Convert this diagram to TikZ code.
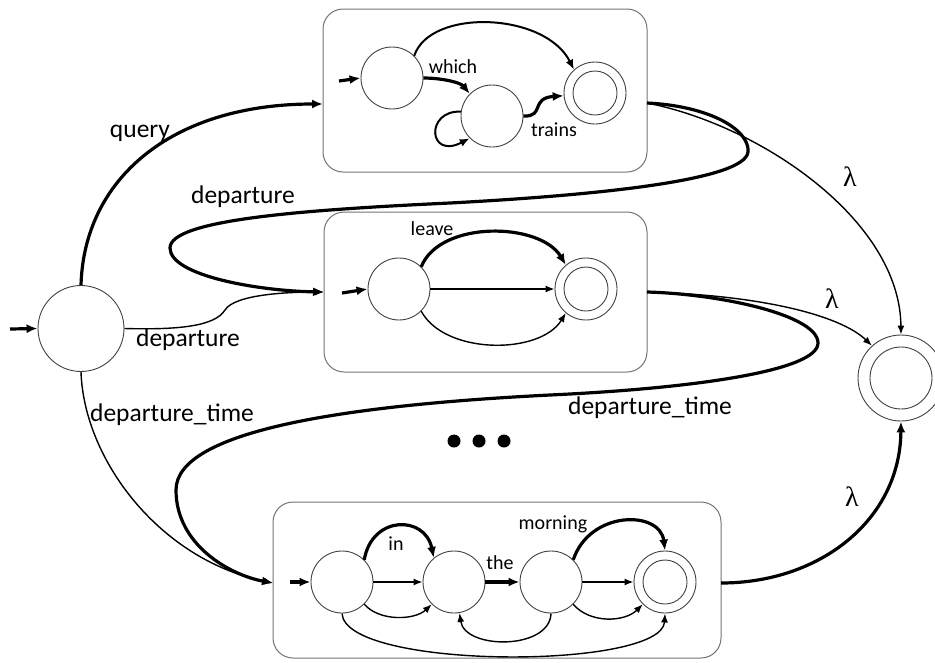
\documentclass[tikz,border=0pt]{standalone}
\usepackage{fontspec}
\setmainfont{Carlito}
\newfontfamily\lamfont{Liberation Serif}
\usetikzlibrary{arrows.meta}
\tikzset{
  st/.style={circle, draw=black!75, line width=0.9pt, minimum size=62pt, inner sep=0pt},
  fin/.style={st, path picture={\draw[black!75, line width=0.9pt] (path picture bounding box.center) circle[radius=22pt];}},
  bigfin/.style={circle, draw=black!75, line width=0.9pt, minimum size=86pt, inner sep=0pt,
    path picture={\draw[black!75, line width=0.9pt] (path picture bounding box.center) circle[radius=31pt];}},
  box/.style={draw=black!55, line width=1pt, rounded corners=20pt, inner sep=0pt},
  thn/.style={line width=1.4pt, -{Latex[length=9pt,width=7pt]}},
  mdm/.style={line width=2pt, -{Latex[length=10pt,width=8pt]}},
  thk/.style={line width=3.2pt, -{Latex[length=11pt,width=9pt]}},
  big/.style={font=\fontsize{25.5}{30}\selectfont, inner sep=0pt},
  sml/.style={font=\fontsize{20}{24}\selectfont, inner sep=0pt},
  lam/.style={font=\lamfont\fontsize{28}{32}\selectfont, inner sep=0pt},
  dot/.style={circle, fill=black, minimum size=13pt, inner sep=0pt}
}
\begin{document}
\begin{tikzpicture}[x=1pt, y=-1pt]
\useasboundingbox (0,0) rectangle (935,662);

% ---------- sub-automaton boxes ----------
\node[box, minimum width=324pt, minimum height=163pt] (box1) at (485,90.5) {};
\node[box, minimum width=323pt, minimum height=160pt] (box2) at (485.5,292) {};
\node[box, minimum width=448pt, minimum height=156pt] (box3) at (497,580) {};

\coordinate (b1in)  at (323,104);
\coordinate (b1out) at (647,103);
\coordinate (b2in)  at (324,292);
\coordinate (b2out) at (647,292);
\coordinate (b3in)  at (273,583);
\coordinate (b3out) at (721,583);

% ---------- outer start and final states ----------
\node[circle, draw=black!75, line width=0.9pt, minimum size=86pt, inner sep=0pt] (s0) at (81,328.5) {};
\node[bigfin] (f) at (901,378) {};
\coordinate (s0i) at (10,329);
\draw[thk] (s0i) -- (s0.west);

% ---------- box 1: which ... trains ----------
\node[st]  (a1) at (392,78) {};
\node[st]  (a2) at (492,116) {};
\node[fin] (a3) at (595,93) {};
\coordinate (a1i) at (339,81);
\draw[thk] (a1i) -- (a1.west);
\draw[mdm] (a1.45) .. controls (430,8) and (545,12) .. (a3.132);
\draw[thk] (a1.east) .. controls (440,78) and (460,82) .. (a2.135);
\draw[mdm] (a2.172) .. controls (425,110) and (428,160) .. (a2.225);
\draw[thk] (a2.east) .. controls (545,117) and (530,98) .. (a3.185);
\node[sml] at (453,67) {which};
\node[sml] at (554,130) {trains};

% ---------- box 2: leave ----------
\node[st]  (b1) at (399,289) {};
\node[fin] (b2) at (586,289) {};
\coordinate (b1i) at (342,293);
\draw[thk] (b1i) -- (b1.west);
\draw[thk] (b1.45) .. controls (440,220) and (540,222) .. (b2.130);
\draw[thn] (b1.east) -- (b2.west);
\draw[thn] (b1.-45) .. controls (445,355) and (540,355) .. (b2.230);
\node[sml] at (432,229) {leave};

% ---------- box 3: in the morning ----------
\node[st]  (c1) at (342,582) {};
\node[st]  (c2) at (454,582) {};
\node[st]  (c3) at (551,582) {};
\node[fin] (c4) at (665,582) {};
\coordinate (c1i) at (290,582);
\draw[thk] (c1i) -- (c1.west);
\draw[thk] (c1.45) .. controls (372,515) and (425,515) .. (c2.130);
\draw[thn] (c1.east) -- (c2.west);
\draw[thn] (c1.-45) .. controls (380,622) and (415,620) .. (c2.225);
\draw[thk] (c2.east) -- (c3.west);
\node[sml] at (500,563) {the};
\draw[thk] (c3.45) .. controls (590,510) and (660,510) .. (c4.north);
\draw[thn] (c3.east) -- (c4.west);
\draw[thn] (c3.-45) .. controls (590,624) and (625,622) .. (c4.225);
\draw[thn] (c3.south) .. controls (550,650) and (465,650) .. (c2.-80);
\draw[thn] (c1.south) .. controls (345,670) and (662,670) .. (c4.south);
\node[sml] at (396,544) {in};
\node[sml] at (553,524) {morning};

% ---------- connectors between the blocks ----------
\draw[thk] (s0.north) .. controls (84,180) and (170,104) .. (b1in);
\node[big] at (140,133) {query};

\draw[thk] (b1out) .. controls (710,106) and (750,130) .. (748,152)
  .. controls (745,180) and (600,195) .. (450,203)
  .. controls (300,210) and (170,220) .. (170,248)
  .. controls (170,276) and (260,291) .. (b2in);
\node[big] at (243,197) {departure};

\draw[thn] (s0.east) .. controls (180,330) and (215,326) .. (225,310)
  .. controls (235,294) and (290,292) .. (b2in);
\node[big] at (188,340) {departure};

\draw[thk] (b2out) .. controls (720,294) and (818,315) .. (818,343)
  .. controls (818,370) and (700,388) .. (550,395)
  .. controls (350,405) and (176,430) .. (176,490)
  .. controls (176,545) and (230,575) .. (b3in);
\node[big] at (650,408) {departure\_time};

\draw[thn] (s0.south) .. controls (84,460) and (160,560) .. (b3in);
\node[big] at (172,415) {departure\_time};

\draw[thn] (b1out) .. controls (760,125) and (900,220) .. (f.north);
\node[lam] at (850,177) {λ};
\draw[thn] (b2out) .. controls (760,295) and (840,315) .. (f.132);
\node[lam] at (832,299) {λ};
\draw[thk] (b3out) .. controls (820,583) and (900,520) .. (f.south);
\node[lam] at (852,497) {λ};

% ---------- ellipsis ----------
\node[dot] (d1) at (454,441) {};
\node[dot] (d2) at (479,441) {};
\node[dot] (d3) at (504,441) {};
\end{tikzpicture}
\end{document}
